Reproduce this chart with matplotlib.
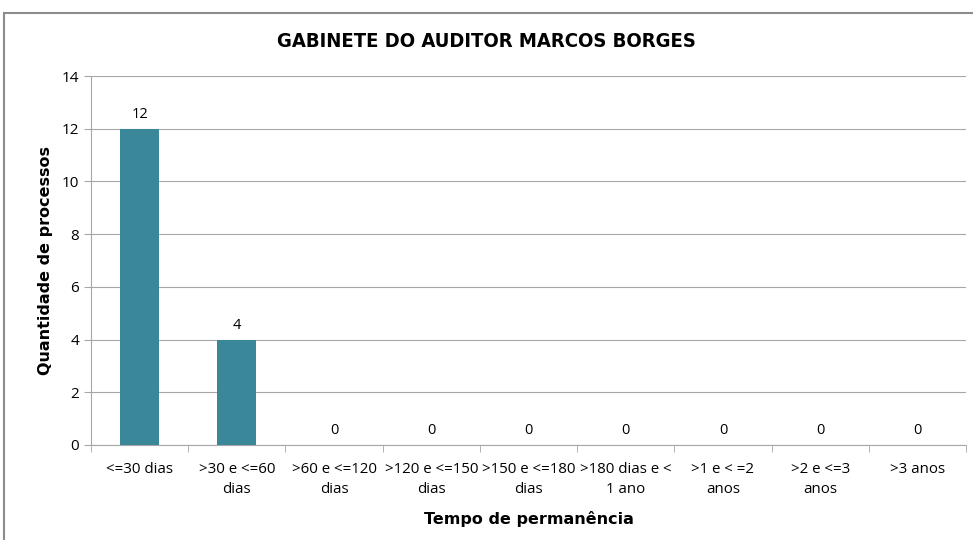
import matplotlib
matplotlib.use("Agg")
import matplotlib.pyplot as plt
from matplotlib.patches import Rectangle

categorias = ["<=30 dias", ">30 e <=60\ndias", ">60 e <=120\ndias", ">120 e <=150\ndias",
              ">150 e <=180\ndias", ">180 dias e <\n1 ano", ">1 e < =2\nanos", ">2 e <=3\nanos", ">3 anos"]
quantidade = [12, 4, 0, 0, 0, 0, 0, 0, 0]

TICK_FONT = "Open Sans"
COR_BARRA = "#3A8799"
COR_GRADE = "#A6A6A6"

fig = plt.figure(figsize=(9.73, 5.4), dpi=100)
fig.patches.append(Rectangle((4 / 973, -0.1), 1.1, 0.1 + 1 - 13 / 540, transform=fig.transFigure,
                             fill=False, edgecolor="#8C8C8C", linewidth=1.5))

ax = fig.add_axes([91 / 973, 1 - 445 / 540, (966 - 91) / 973, (445 - 76) / 540])

x = list(range(len(categorias)))
barras = ax.bar(x, quantidade, width=0.4, color=COR_BARRA, zorder=3)
for xi, v in zip(x, quantidade):
    ax.text(xi, v + 0.25, str(v), ha="center", va="bottom", fontsize=10.5, family=TICK_FONT)

ax.set_xlim(-0.5, len(categorias) - 0.5)
ax.set_ylim(0, 14)
ax.set_yticks(range(0, 15, 2))
ax.yaxis.grid(True, color=COR_GRADE, linewidth=0.8, zorder=0)
ax.set_axisbelow(True)

ax.set_xticks(x)
ax.set_xticklabels(categorias, family=TICK_FONT, fontsize=10.8, linespacing=1.45)
ax.set_xticks([i + 0.5 for i in range(-1, len(categorias))], minor=True)
ax.tick_params(axis="x", which="major", length=0, pad=12)
ax.tick_params(axis="x", which="minor", length=5, color=COR_GRADE)
ax.tick_params(axis="y", length=5, color=COR_GRADE, labelsize=11)
for lab in ax.get_yticklabels():
    lab.set_family(TICK_FONT)

for s in ["top", "right"]:
    ax.spines[s].set_visible(False)
ax.spines["left"].set_color(COR_GRADE)
ax.spines["bottom"].set_color(COR_GRADE)

ax.set_ylabel("Quantidade de processos", fontsize=11.5, fontweight="bold", family="DejaVu Sans", labelpad=6)
ax.set_xlabel("Tempo de permanência", fontsize=11.5, fontweight="bold", family="DejaVu Sans", labelpad=10)
fig.text(0.5, 1 - 42 / 540, "GABINETE DO AUDITOR MARCOS BORGES", ha="center", va="center",
         fontsize=14.5, fontweight="bold", fontstretch="condensed", family=["DejaVu Sans"])

fig.savefig("out.png", dpi=100)
